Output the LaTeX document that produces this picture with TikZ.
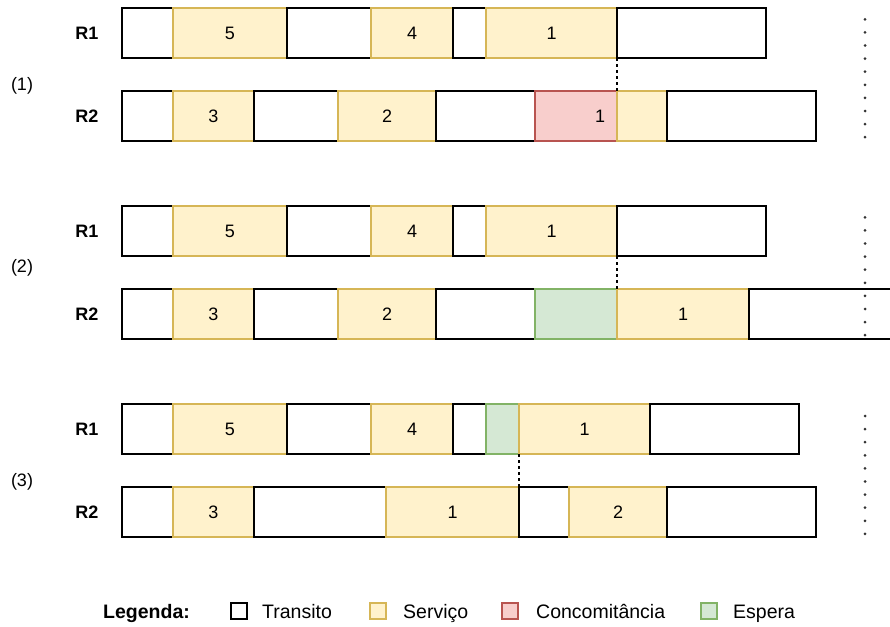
\documentclass[tikz,border=0pt]{standalone}
\usepackage{fontspec}
\setmainfont{Liberation Sans}
\definecolor{svcfill}{HTML}{FFF2CC}
\definecolor{svcdraw}{HTML}{D6B656}
\definecolor{confill}{HTML}{F8CECC}
\definecolor{condraw}{HTML}{B85450}
\definecolor{waitfill}{HTML}{D5E8D4}
\definecolor{waitdraw}{HTML}{82B366}
\newcommand\myseg[6]{%
  \pgfmathsetmacro\segw{#3-#2}%
  \node[#5, minimum width=\segw pt, anchor=north west] (#1) at (#2,#4) {#6};}
\begin{document}
\begin{tikzpicture}[x=1pt,y=-1pt,
  seg/.style={inner sep=0pt, outer sep=0pt, minimum height=50pt, line width=1.5pt,
    font=\fontsize{18}{20}\selectfont},
  transit/.style={seg, draw=black, fill=white},
  svc/.style={seg, draw=svcdraw, fill=svcfill},
  conc/.style={seg, draw=condraw, fill=confill},
  wait/.style={seg, draw=waitdraw, fill=waitfill},
  rowlbl/.style={font=\fontsize{18}{20}\selectfont\bfseries, inner sep=0pt},
  seclbl/.style={font=\fontsize{18}{20}\selectfont, inner sep=0pt},
  link/.style={draw=black, line width=1.2pt, dash pattern=on 3pt off 3pt},
  dots/.style={draw=black!80, line width=3pt, line cap=round, dash pattern=on 0pt off 13.1pt},
  legbox/.style={draw, line width=1.5pt, minimum width=16pt, minimum height=16pt, inner sep=0pt},
  legtxt/.style={font=\fontsize{19.5}{22}\selectfont, inner sep=0pt, anchor=base west}
]
\clip (0,0) rectangle (890,626);
\fill[white] (0,0) rectangle (890,626);

% ---------- section 1 ----------
\node[seclbl] (l1) at (22,86) {(1)};
\node[rowlbl] (l1r1) at (87,33) {R1};
\node[rowlbl] (l1r2) at (87,116) {R2};
\myseg{a1}{122}{173}{8}{transit}{}
\myseg{a2}{173}{287}{8}{svc}{5}
\myseg{a3}{287}{371}{8}{transit}{}
\myseg{a4}{371}{453}{8}{svc}{4}
\myseg{a5}{453}{486}{8}{transit}{}
\myseg{a6}{486}{617}{8}{svc}{1}
\myseg{a7}{617}{766}{8}{transit}{}
\myseg{b1}{122}{173}{91}{transit}{}
\myseg{b2}{173}{254}{91}{svc}{3}
\myseg{b3}{254}{338}{91}{transit}{}
\myseg{b4}{338}{436}{91}{svc}{2}
\myseg{b5}{436}{535}{91}{transit}{}
\myseg{b6}{535}{617}{91}{conc}{\hspace*{48pt}1}
\myseg{b7}{617}{667}{91}{svc}{}
\myseg{b8}{667}{816}{91}{transit}{}
\draw[link] (a7.south west) -- (a7.south west |- b7.north);
\coordinate (d1s) at (865,19.3);
\coordinate (d1e) at (865,138);
\draw[dots] (d1s) -- (d1e);

% ---------- section 2 ----------
\node[seclbl] (l2) at (22,268) {(2)};
\node[rowlbl] (l2r1) at (87,231) {R1};
\node[rowlbl] (l2r2) at (87,314) {R2};
\myseg{c1}{122}{173}{206}{transit}{}
\myseg{c2}{173}{287}{206}{svc}{5}
\myseg{c3}{287}{371}{206}{transit}{}
\myseg{c4}{371}{453}{206}{svc}{4}
\myseg{c5}{453}{486}{206}{transit}{}
\myseg{c6}{486}{617}{206}{svc}{1}
\myseg{c7}{617}{766}{206}{transit}{}
\myseg{e1}{122}{173}{289}{transit}{}
\myseg{e2}{173}{254}{289}{svc}{3}
\myseg{e3}{254}{338}{289}{transit}{}
\myseg{e4}{338}{436}{289}{svc}{2}
\myseg{e5}{436}{535}{289}{transit}{}
\myseg{e6}{535}{617}{289}{wait}{}
\myseg{e7}{617}{749}{289}{svc}{1}
\myseg{e8}{749}{905}{289}{transit}{}
\draw[link] (c7.south west) -- (c7.south west |- e7.north);
\coordinate (d2s) at (865,217.3);
\coordinate (d2e) at (865,337);
\draw[dots] (d2s) -- (d2e);

% ---------- section 3 ----------
\node[seclbl] (l3) at (22,482) {(3)};
\node[rowlbl] (l3r1) at (87,429) {R1};
\node[rowlbl] (l3r2) at (87,512) {R2};
\myseg{f1}{122}{173}{404}{transit}{}
\myseg{f2}{173}{287}{404}{svc}{5}
\myseg{f3}{287}{371}{404}{transit}{}
\myseg{f4}{371}{453}{404}{svc}{4}
\myseg{f5}{453}{486}{404}{transit}{}
\myseg{f6}{486}{519}{404}{wait}{}
\myseg{f7}{519}{650}{404}{svc}{1}
\myseg{f8}{650}{799}{404}{transit}{}
\myseg{g1}{122}{173}{487}{transit}{}
\myseg{g2}{173}{254}{487}{svc}{3}
\myseg{g3}{254}{386}{487}{transit}{}
\myseg{g4}{386}{519}{487}{svc}{1}
\myseg{g5}{519}{569}{487}{transit}{}
\myseg{g6}{569}{667}{487}{svc}{2}
\myseg{g7}{667}{816}{487}{transit}{}
\draw[link] (f7.south west) -- (f7.south west |- g5.north);
\coordinate (d3s) at (865,416);
\coordinate (d3e) at (865,535);
\draw[dots] (d3s) -- (d3e);

% ---------- legend ----------
\node[legtxt, font=\fontsize{19.5}{22}\selectfont\bfseries] (leg) at (103,618) {Legenda:};
\node[legbox, draw=black, fill=white] (k1) at (239,611) {};
\node[legtxt] (t1) at (262,618) {Transito};
\node[legbox, draw=svcdraw, fill=svcfill] (k2) at (378,611) {};
\node[legtxt] (t2) at (403,618) {Serviço};
\node[legbox, draw=condraw, fill=confill] (k3) at (510,611) {};
\node[legtxt] (t3) at (536,618) {Concomitância};
\node[legbox, draw=waitdraw, fill=waitfill] (k4) at (709,611) {};
\node[legtxt] (t4) at (733,618) {Espera};
\end{tikzpicture}
\end{document}
